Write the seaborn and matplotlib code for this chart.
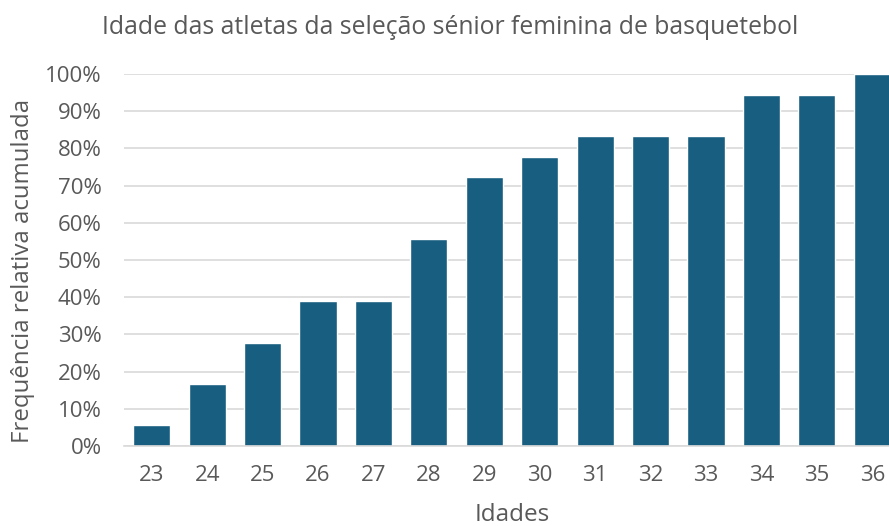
import numpy as np
import pandas as pd
import seaborn as sns
import matplotlib.pyplot as plt
from matplotlib.ticker import PercentFormatter

# Data
idades = ['23', '24', '25', '26', '27', '28', '29', '30', '31', '32', '33', '34', '35', '36']
freq_acum = [5.56, 16.67, 27.78, 38.89, 38.89, 55.56, 72.22, 77.78, 83.33, 83.33, 83.33, 94.44, 94.44, 100.0]

df = pd.DataFrame({'Idades': idades, 'freq': freq_acum})

sns.set_theme(style='white')
plt.rcParams['font.family'] = ['Open Sans', 'DejaVu Sans']
text_color = '#595959'

fig = plt.figure(figsize=(8.89, 5.26), dpi=100)
ax = fig.add_axes([124 / 889, 80 / 526, 776 / 889, 372 / 526])

sns.barplot(data=df, x='Idades', y='freq', color='#175E80', width=0.67,
            saturation=1, ax=ax, zorder=2)

ax.set_ylim(0, 100)
ax.set_xlim(-0.5, 13.5)
ax.set_yticks(np.arange(0, 101, 10))
ax.yaxis.set_major_formatter(PercentFormatter(decimals=0))
ax.yaxis.grid(True, color='#D9D9D9', linewidth=1.2, zorder=0)
ax.set_axisbelow(True)
for s in ['top', 'right', 'left']:
    ax.spines[s].set_visible(False)
ax.spines['bottom'].set_color('#D9D9D9')
ax.spines['bottom'].set_linewidth(1.2)

ax.tick_params(axis='both', length=0, labelsize=16, colors=text_color)
ax.tick_params(axis='y', pad=16)
ax.tick_params(axis='x', pad=14)
ax.set_xlabel('Idades', fontsize=17.5, color=text_color, labelpad=12)
ax.set_ylabel('Frequência relativa acumulada', fontsize=17.3, color=text_color)
ax.yaxis.set_label_coords(-0.115, 0.47)

fig.text(450 / 889, 1 - 28 / 526, 'Idade das atletas da seleção sénior feminina de basquetebol',
         ha='center', va='center', fontsize=17.8, color=text_color)

fig.savefig('out.png', dpi=100)
